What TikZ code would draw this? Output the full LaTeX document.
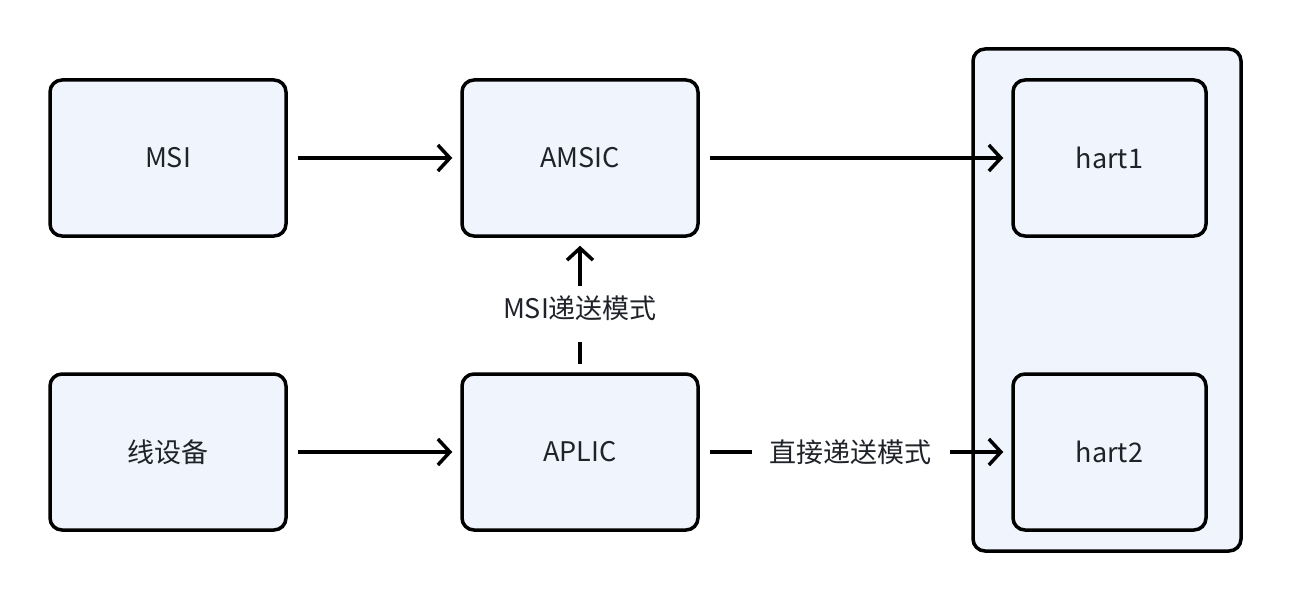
\documentclass[tikz,border=0pt]{standalone}
\usepackage{fontspec}
\setmainfont{Noto Sans CJK SC}
\usetikzlibrary{arrows.meta}
\definecolor{boxfill}{HTML}{EFF4FD}
\definecolor{textgray}{HTML}{1F2329}

\begin{document}
\begin{tikzpicture}[x=1pt,y=-1pt,line width=3.5pt,
	>={Straight Barb[length=12pt,width=26pt,line width=3.5pt]},
	box/.style={draw,fill=boxfill,rounded corners=12pt,minimum width=236pt,
		minimum height=156pt,text=textgray,font=\fontsize{27}{32}\selectfont},
	lbl/.style={fill=white,text=textgray,font=\fontsize{27}{32}\selectfont,inner sep=0pt}]
\useasboundingbox (0,0) rectangle (1292,604);
% container of the harts
\draw[fill=boxfill,rounded corners=12pt] (973,49) rectangle (1241,551);
\node[box] (msi) at (168,158) {MSI};
\node[box] (amsic) at (580,158) {AMSIC};
\node[box] (wire) at (168,452) {线设备};
\node[box] (aplic) at (580,452) {APLIC};
\node[box,minimum width=193pt] (hart1) at (1109.5,158) {hart1};
\node[box,minimum width=193pt] (hart2) at (1109.5,452) {hart2};
\draw[->] ([xshift=10pt]msi.east) -- ([xshift=-8pt]amsic.west);
\draw[->] ([xshift=10pt]amsic.east) -- ([xshift=-8pt]hart1.west);
\draw[->] ([xshift=10pt]wire.east) -- ([xshift=-8pt]aplic.west);
\draw[->] ([xshift=10pt]aplic.east) -- ([xshift=-8pt]hart2.west)
	node[lbl,pos=0.48,minimum width=198pt,minimum height=40pt] (direct) {直接递送模式};
\draw[->,dash pattern=on 22pt off 56pt on 34pt off 0pt]
	([yshift=8pt]aplic.north) -- ([yshift=-8pt]amsic.south)
	node[lbl,pos=0.47,minimum height=40pt,minimum width=170pt] (msimode) {MSI递送模式};
\end{tikzpicture}
\end{document}
